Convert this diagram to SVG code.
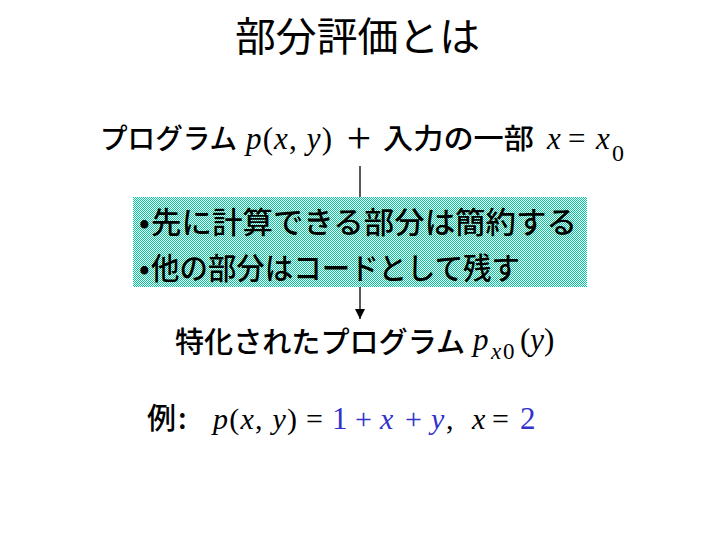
<svg xmlns="http://www.w3.org/2000/svg" width="720" height="540" viewBox="0 0 720 540">
<style>
.jp{font-family:"Noto Sans CJK JP","Noto Sans CJK SC",sans-serif;font-weight:500;fill:#000}
.t{font-weight:400}
.m{font-family:"Liberation Serif","Times New Roman",serif;font-style:italic;fill:#000}
.u{font-family:"Liberation Serif","Times New Roman",serif;font-style:normal;fill:#000}
.i{font-style:italic}
.b{fill:#3333CC}
.con{stroke:#000;stroke-width:1.3;fill:none}
</style>
<defs>
<pattern id="chk" width="2" height="2" patternUnits="userSpaceOnUse">
<rect width="2" height="2" fill="#fff"/>
<rect x="0" y="0" width="1" height="1" fill="#00CC99"/>
<rect x="1" y="1" width="1" height="1" fill="#00CC99"/>
</pattern>
<marker id="ah" viewBox="0 0 10 10" refX="10" refY="5" markerWidth="10" markerHeight="10" markerUnits="userSpaceOnUse" orient="auto">
<path d="M0,0 L10,5 L0,10 Z" fill="#000"/>
</marker>
</defs>
<rect width="720" height="540" fill="#fff"/>

<g id="title">
<text class="jp t" x="235" y="51" font-size="40" textLength="245" lengthAdjust="spacingAndGlyphs">部分評価とは</text>
</g>

<g id="source">
<text class="jp" x="100" y="149" font-size="28" textLength="137" lengthAdjust="spacingAndGlyphs">プログラム</text>
<text class="u" x="246" y="149" font-size="31" textLength="86" lengthAdjust="spacing"><tspan class="i">p</tspan>(<tspan class="i">x</tspan>, <tspan class="i">y</tspan>)</text>
<text class="jp" x="345" y="149" font-size="28">＋</text>
<text class="jp" x="383" y="149" font-size="28" textLength="151" lengthAdjust="spacingAndGlyphs">入力の一部</text>
<text class="m" x="547" y="149" font-size="31">x</text>
<text class="u" x="568" y="149" font-size="31">=</text>
<text class="m" x="596" y="149" font-size="31">x</text>
<text class="u" x="612" y="161" font-size="24">0</text>
</g>

<g id="box">
<rect x="133" y="197" width="454" height="90" fill="url(#chk)"/>
<text class="jp" x="139" y="233" font-size="30">•</text>
<text class="jp" x="151" y="233" font-size="30" textLength="426" lengthAdjust="spacingAndGlyphs">先に計算できる部分は簡約する</text>
<text class="jp" x="139" y="279" font-size="30">•</text>
<text class="jp" x="151" y="279" font-size="30" textLength="369" lengthAdjust="spacingAndGlyphs">他の部分はコードとして残す</text>
</g>

<g id="result">
<text class="jp" x="175" y="353" font-size="29" textLength="290" lengthAdjust="spacingAndGlyphs">特化されたプログラム</text>
<text class="m" x="473" y="350" font-size="31">p</text>
<text class="m" x="491" y="359" font-size="23">x</text>
<text class="u" x="503" y="359" font-size="23">0</text>
<text class="u" x="520" y="350" font-size="31">(<tspan class="i">y</tspan>)</text>
</g>

<g id="example">
<text class="jp" x="147" y="429" font-size="29">例</text>
<text class="jp" x="178" y="429" font-size="29">:</text>
<text class="u" x="213" y="429" font-size="30" textLength="84" lengthAdjust="spacing"><tspan class="i">p</tspan>(<tspan class="i">x</tspan>, <tspan class="i">y</tspan>)</text>
<text class="u" x="306" y="429" font-size="30">=</text>
<text class="u b" x="332" y="429" font-size="31">1</text>
<text class="u b" x="355" y="429" font-size="30">+</text>
<text class="m b" x="380" y="429" font-size="30">x</text>
<text class="u b" x="405" y="429" font-size="30">+</text>
<text class="m b" x="431" y="429" font-size="30">y</text>
<text class="u" x="446" y="429" font-size="30">,</text>
<text class="m" x="472" y="429" font-size="30">x</text>
<text class="u" x="492" y="429" font-size="30">=</text>
<text class="u b" x="520" y="429" font-size="31">2</text>
</g>

<g id="connectors">
<line class="con" x1="360" y1="166" x2="360" y2="197"/>
<line class="con" x1="360" y1="287" x2="360" y2="319" marker-end="url(#ah)"/>
</g>
</svg>
